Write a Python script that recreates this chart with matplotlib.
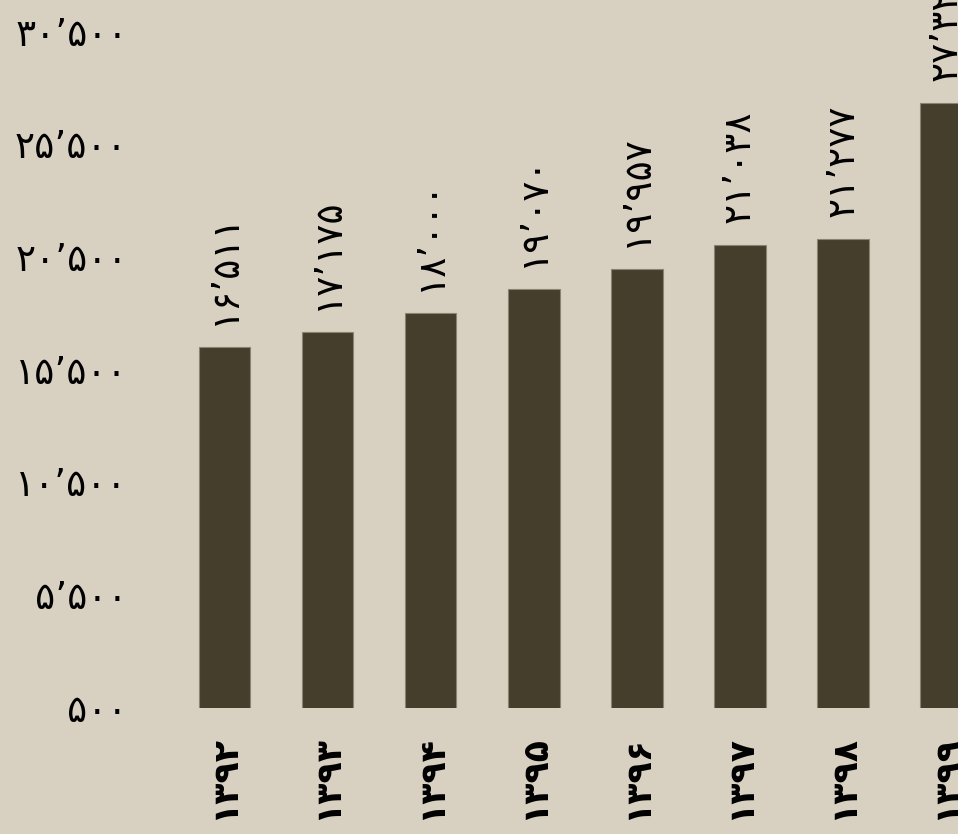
import matplotlib
matplotlib.use("Agg")
import matplotlib.pyplot as plt
from matplotlib.ticker import FixedLocator, FuncFormatter

# ---- data ----
years = [1392, 1393, 1394, 1395, 1396, 1397, 1398, 1399]
values = [16511, 17175, 18000, 19070, 19957, 21038, 21277, 27321]
y_ticks = [500, 5500, 10500, 15500, 20500, 25500, 30500]

FA_DIGITS = str.maketrans("0123456789,", "۰۱۲۳۴۵۶۷۸۹٬")


def fa(n, sep=True):
    s = f"{int(n):,}" if sep else f"{int(n)}"
    return s.translate(FA_DIGITS)


BG = "#d8d0c0"
BAR = "#453e2d"

W, H = 958, 834
fig = plt.figure(figsize=(W / 100, H / 100), dpi=100, facecolor=BG)

# axes geometry in pixels (axes intentionally extends past the right/top edges)
ax_left_px, ax_right_px = 140, 1000
ax_bottom_px, ax_top_px = 707.5, -50
ax = fig.add_axes([ax_left_px / W, (H - ax_bottom_px) / H,
                   (ax_right_px - ax_left_px) / W, (ax_bottom_px - ax_top_px) / H])
ax.set_facecolor(BG)

px_per_cat = 103.1
x0_px = 224.5
px_per_unit = 112.65 / 5000
ax.set_xlim((ax_left_px - x0_px) / px_per_cat, (ax_right_px - x0_px) / px_per_cat)
ax.set_ylim(500, 500 + (ax_bottom_px - ax_top_px) / px_per_unit)

xs = list(range(len(years)))
bars = ax.bar(xs, values, width=0.5, color=BAR, edgecolor="#8b8372", linewidth=0.8)

for x, v in zip(xs, values):
    ax.annotate(fa(v), xy=(x, v), xytext=(0, 22), textcoords="offset pixels",
                rotation=90, ha="center", va="bottom", fontsize=27,
                family="DejaVu Sans", color="black")

ax.yaxis.set_major_locator(FixedLocator(y_ticks))
ax.yaxis.set_major_formatter(FuncFormatter(lambda v, p: fa(v)))
ax.set_xticks(xs)
ax.set_xticklabels([fa(y, sep=False) for y in years], rotation=90,
                   fontsize=25, fontweight="bold", family="DejaVu Sans")

ax.tick_params(axis="y", length=0, pad=9, labelsize=27)
ax.tick_params(axis="x", length=0, pad=20)
for s in ax.spines.values():
    s.set_visible(False)
ax.grid(False)

fig.savefig("out.png", dpi=100, facecolor=BG)
